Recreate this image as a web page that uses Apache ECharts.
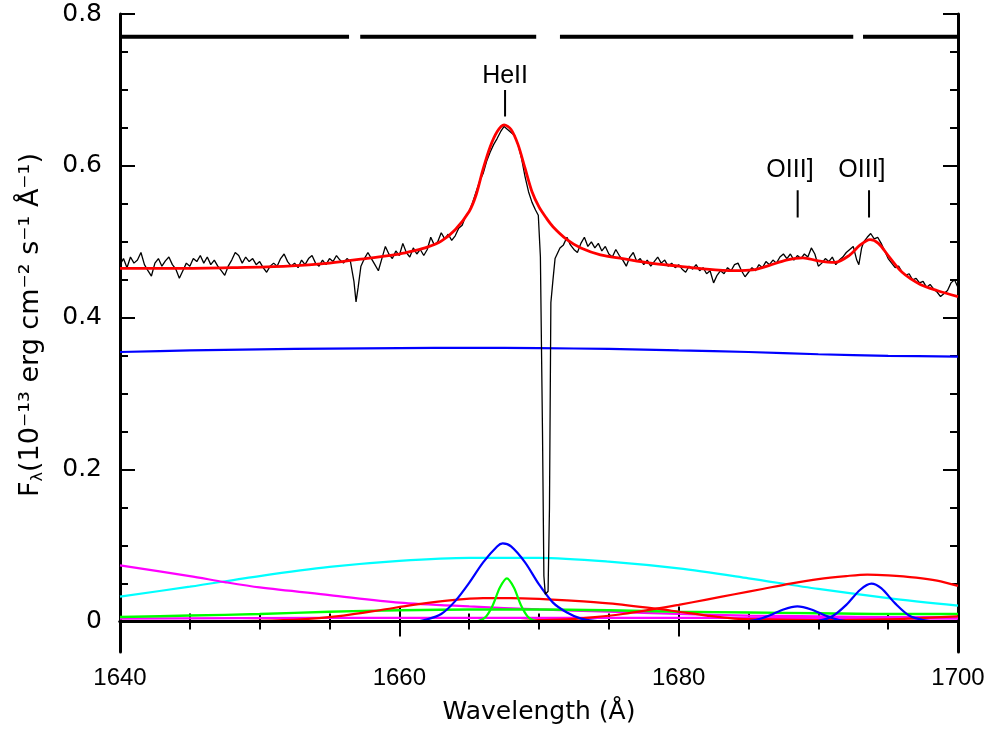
<!DOCTYPE html>
<html><head><meta charset="utf-8">
<script src="https://cdn.jsdelivr.net/npm/echarts@6/dist/echarts.min.js"></script>
<style>html,body{margin:0;padding:0;background:#fff}#c{width:1000px;height:733px}</style>
</head><body><div id="c"></div>
<script>
// ---- axis ticks ----
const yMajorTicks = [0, 0.2, 0.4, 0.6, 0.8];
const yMinorTicks = [0.05, 0.1, 0.15, 0.25, 0.3, 0.35, 0.45, 0.5, 0.55, 0.65, 0.7, 0.75];

// ---- observed spectrum (wavelength, flux) ----
const spec1 = [[1640.00,0.470],[1640.25,0.478],[1640.50,0.466],[1640.75,0.480],[1641.00,0.472],[1641.25,0.476],[1641.50,0.486],[1641.75,0.470],[1642.00,0.462],[1642.25,0.455],[1642.50,0.472],[1642.75,0.478],[1643.00,0.468],[1643.25,0.475],[1643.50,0.480],[1643.75,0.470],[1644.00,0.464],[1644.25,0.452],[1644.50,0.462],[1644.75,0.472],[1645.00,0.468],[1645.25,0.478],[1645.50,0.474],[1645.75,0.482],[1646.00,0.472],[1646.25,0.480],[1646.50,0.470],[1646.75,0.476],[1647.00,0.468],[1647.25,0.462],[1647.50,0.456],[1647.75,0.468],[1648.00,0.476],[1648.25,0.486],[1648.50,0.482],[1648.75,0.472],[1649.00,0.480],[1649.25,0.474],[1649.50,0.478],[1649.75,0.470]];
const spec2 = [[1650.00,0.474],[1650.25,0.466],[1650.50,0.460],[1650.75,0.468],[1651.00,0.472],[1651.25,0.468],[1651.50,0.478],[1651.75,0.484],[1652.00,0.474],[1652.25,0.468],[1652.50,0.472],[1652.75,0.466],[1653.00,0.476],[1653.25,0.470],[1653.50,0.478],[1653.75,0.482],[1654.00,0.472],[1654.25,0.468],[1654.50,0.476],[1654.75,0.470],[1655.00,0.478],[1655.25,0.474],[1655.50,0.482],[1655.75,0.476],[1656.00,0.472],[1656.25,0.478],[1656.50,0.474],[1656.75,0.448],[1656.90,0.421],[1657.05,0.440],[1657.25,0.468],[1657.50,0.478],[1657.75,0.486],[1658.00,0.478],[1658.25,0.470],[1658.50,0.462],[1658.75,0.478],[1659.00,0.494],[1659.25,0.484],[1659.50,0.478],[1659.75,0.488]];
const spec3 = [[1660.00,0.482],[1660.25,0.498],[1660.50,0.486],[1660.75,0.480],[1661.00,0.492],[1661.25,0.484],[1661.50,0.490],[1661.75,0.482],[1662.00,0.490],[1662.25,0.506],[1662.50,0.496],[1662.75,0.500],[1663.00,0.512],[1663.25,0.504],[1663.50,0.510],[1663.75,0.502],[1664.00,0.508],[1664.25,0.518],[1664.50,0.522],[1664.75,0.534],[1665.00,0.540],[1665.25,0.552],[1665.50,0.566],[1665.75,0.580],[1666.00,0.590],[1666.25,0.606],[1666.50,0.618],[1666.75,0.628],[1667.00,0.636],[1667.25,0.645],[1667.50,0.652],[1667.75,0.648],[1668.00,0.644],[1668.25,0.640],[1668.50,0.628],[1668.75,0.610],[1669.00,0.586],[1669.25,0.566],[1669.50,0.552],[1669.75,0.542],[1669.95,0.535]];
const spec4 = [[1670.10,0.480],[1670.25,0.250],[1670.35,0.060],[1670.45,0.036],[1670.55,0.035],[1670.65,0.040],[1670.75,0.150],[1670.85,0.420],[1671.00,0.450],[1671.15,0.478],[1671.35,0.486],[1671.50,0.492],[1671.75,0.496],[1672.00,0.506],[1672.25,0.496],[1672.50,0.490],[1672.75,0.486],[1673.00,0.498],[1673.25,0.506],[1673.50,0.494],[1673.75,0.500],[1674.00,0.492],[1674.25,0.498],[1674.50,0.488],[1674.75,0.494],[1675.00,0.484],[1675.25,0.480],[1675.50,0.490],[1675.75,0.482],[1676.00,0.476],[1676.25,0.468],[1676.50,0.480],[1676.75,0.486],[1677.00,0.474],[1677.25,0.478],[1677.50,0.470],[1677.75,0.476],[1678.00,0.468],[1678.25,0.474],[1678.50,0.480],[1678.75,0.472],[1679.00,0.476],[1679.25,0.468],[1679.50,0.472],[1679.75,0.466]];
const spec5 = [[1680.00,0.470],[1680.25,0.464],[1680.50,0.460],[1680.75,0.468],[1681.00,0.464],[1681.25,0.470],[1681.50,0.462],[1681.75,0.466],[1682.00,0.458],[1682.25,0.462],[1682.50,0.446],[1682.75,0.456],[1683.00,0.462],[1683.25,0.458],[1683.50,0.466],[1683.75,0.462],[1684.00,0.470],[1684.25,0.472],[1684.50,0.462],[1684.75,0.454],[1685.00,0.460],[1685.25,0.466],[1685.50,0.462],[1685.75,0.470],[1686.00,0.466],[1686.25,0.474],[1686.50,0.470],[1686.75,0.476],[1687.00,0.472],[1687.25,0.480],[1687.50,0.484],[1687.75,0.478],[1688.00,0.484],[1688.25,0.476],[1688.50,0.482],[1688.75,0.478],[1689.00,0.484],[1689.25,0.480],[1689.50,0.492],[1689.75,0.484]];
const spec6 = [[1690.00,0.468],[1690.25,0.472],[1690.50,0.478],[1690.75,0.474],[1691.00,0.480],[1691.25,0.470],[1691.50,0.476],[1691.75,0.480],[1692.00,0.486],[1692.25,0.490],[1692.50,0.494],[1692.75,0.476],[1692.90,0.470],[1693.10,0.492],[1693.25,0.500],[1693.50,0.506],[1693.75,0.511],[1694.00,0.504],[1694.25,0.506],[1694.50,0.498],[1694.75,0.488],[1695.00,0.478],[1695.25,0.472],[1695.50,0.466],[1695.75,0.468],[1696.00,0.460],[1696.25,0.456],[1696.50,0.458],[1696.75,0.450],[1697.00,0.452],[1697.25,0.446],[1697.50,0.448],[1697.75,0.440],[1698.00,0.444],[1698.25,0.438],[1698.50,0.434],[1698.75,0.428],[1699.00,0.432],[1699.25,0.436],[1699.50,0.446],[1699.75,0.450],[1700.00,0.440]];

// ---- total model fit ----
const fitTotal = [[1640,0.465],[1644,0.465],[1648,0.466],[1652,0.468],[1655,0.472],[1658,0.479],[1660,0.484],[1661,0.488],[1662,0.493],[1663,0.501],[1664,0.516],[1665,0.540],[1665.5,0.562],[1666,0.596],[1666.5,0.625],[1667,0.645],[1667.5,0.654],[1668,0.648],[1668.5,0.628],[1669,0.597],[1669.5,0.566],[1670,0.546],[1670.5,0.532],[1671,0.520],[1672,0.503],[1673,0.492],[1674.4,0.483],[1676,0.478],[1678,0.472],[1680,0.468],[1682,0.464],[1684,0.462],[1685.3,0.463],[1686.5,0.469],[1687.7,0.476],[1688.9,0.479],[1690,0.475],[1691.2,0.473],[1692.2,0.482],[1693,0.496],[1693.7,0.503],[1694.3,0.498],[1695,0.482],[1696,0.460],[1697.3,0.444],[1698.5,0.436],[1700,0.428]];

// ---- model components ----
const contBlue = [[1640,0.355],[1645,0.357],[1650,0.3585],[1655,0.3595],[1660,0.360],[1665,0.3605],[1670,0.360],[1675,0.359],[1680,0.357],[1685,0.355],[1690,0.352],[1695,0.350],[1700,0.349]];
const broadCyan = [[1640,0.033],[1645,0.046],[1650,0.060],[1655,0.072],[1660,0.080],[1665,0.084],[1670,0.084],[1675,0.079],[1680,0.070],[1685,0.057],[1690,0.043],[1695,0.031],[1700,0.021]];
const magentaA = [[1640,0.074],[1645,0.060],[1647.5,0.052],[1650,0.045],[1655,0.035],[1660,0.025],[1665,0.020],[1670,0.016],[1675,0.013],[1680,0.010],[1685,0.008],[1690,0.007],[1695,0.006],[1700,0.006]];
const magentaB = [[1640,0.004],[1655,0.005],[1670,0.005],[1685,0.005],[1700,0.004]];
const greenBroad = [[1640,0.006],[1645,0.008],[1650,0.010],[1655,0.013],[1660,0.015],[1665,0.016],[1670,0.016],[1675,0.015],[1680,0.013],[1685,0.012],[1690,0.011],[1695,0.010],[1700,0.010]];
const redA = [[1640,0.000],[1645,0.000],[1650,0.001],[1653,0.003],[1656,0.008],[1658.6,0.015],[1661,0.022],[1663.6,0.028],[1666,0.031],[1668,0.031],[1670,0.030],[1672,0.028],[1675,0.024],[1678.4,0.017],[1680,0.013],[1682,0.008],[1684,0.004],[1686,0.003],[1690,0.002],[1695,0.003],[1700,0.007]];
const redB = [[1668,0.000],[1670,0.002],[1672,0.003],[1674,0.006],[1676,0.010],[1678.4,0.017],[1680,0.022],[1682,0.029],[1684,0.036],[1686,0.043],[1688,0.050],[1690,0.056],[1692,0.060],[1693.5,0.062],[1695,0.061],[1697,0.058],[1698.5,0.054],[1700,0.047]];
const blueHeII = [[1660,0],[1661,0.000],[1662,0.003],[1663,0.010],[1664,0.027],[1665,0.051],[1666,0.078],[1667,0.099],[1667.4,0.103],[1668,0.099],[1669,0.078],[1670,0.049],[1671,0.025],[1672,0.012],[1673,0.004],[1674,0.001],[1675,0]];
const blueOIIIa = [[1683.5,0],[1684.5,0.000],[1685.5,0.002],[1686.5,0.008],[1687.5,0.016],[1688.5,0.020],[1689.5,0.016],[1690.5,0.008],[1691.5,0.002],[1692.5,0.000],[1693.5,0]];
const blueOIIIb = [[1689,0],[1690,0.001],[1691,0.007],[1692,0.022],[1693,0.042],[1693.8,0.050],[1694.5,0.044],[1695.5,0.024],[1696.5,0.008],[1697.5,0.002],[1698.5,0.000],[1699.5,0]];
const greenNarrow = [[1665.2,0],[1665.7,0.001],[1666.2,0.0065],[1666.7,0.022],[1667.2,0.045],[1667.7,0.057],[1668.2,0.045],[1668.7,0.022],[1669.2,0.0065],[1669.7,0.001],[1670.2,0]];
const zeroLevel = [[1640,0],[1700,0]];

// ---- top bar segments (wavelength ranges) at flux level ----
const barLevel = 0.77;
const barStarts = [1640, 1657.2, 1671.5, 1693.2];
const barEnds   = [1656.4, 1669.8, 1692.5, 1700];

// ---- line identifications ----
const lineNames = ['HeII', 'OIII]', 'OIII]'];
const lineLabelLam = [1667.57, 1687.97, 1693.12];
const lineLabelFlux = [0.718, 0.595, 0.595];
const lineTickLam = [1667.57, 1688.52, 1693.63];
const lineTickLow = [0.665, 0.532, 0.532];
const lineTickHigh = [0.700, 0.568, 0.568];

const spectrum = [].concat(spec1, spec2, spec3, spec4, spec5, spec6);
const barData = [];
barStarts.forEach((s, i) => { if (i > 0) barData.push([s, '-']); barData.push([s, barLevel], [barEnds[i], barLevel]); });
const tickData = [];
lineTickLam.forEach((l, i) => { if (i > 0) tickData.push([l, '-']); tickData.push([l, lineTickLow[i]], [l, lineTickHigh[i]]); });
const labelData = lineNames.map((n, i) => [lineLabelLam[i], lineLabelFlux[i], n]);

const chart = echarts.init(document.getElementById('c'), null, {renderer: 'canvas'});
const black = '#000';
const axisLineStyle = {color: black, width: 3};
const tickStyle = {color: black, width: 2};

function comp(data, color, w, z) {
  return {type: 'line', data: data, symbol: 'none', smooth: 0.3,
    lineStyle: {color: color, width: w || 2.2}, z: z || 2, silent: true};
}

const yBase = {type: 'value', min: -0.04, max: 0.8, splitLine: {show: false}};
const xBase = {type: 'value', min: 1640, max: 1700, interval: 20, splitLine: {show: false}};

chart.setOption({
  animation: false,
  backgroundColor: '#fff',
  grid: {left: 120, right: 42, top: 14, bottom: 81},
  xAxis: [
    Object.assign({}, xBase, {position: 'bottom',
      axisLine: {lineStyle: axisLineStyle},
      axisTick: {inside: true, length: 15, lineStyle: tickStyle},
      minorTick: {show: true, splitNumber: 4, length: 8, lineStyle: tickStyle},
      axisLabel: {margin: 14, fontSize: 24, color: black, fontFamily: 'Liberation Sans', formatter: v => String(v)},
      name: 'Wavelength (Å)', nameLocation: 'middle', nameGap: 48,
      nameTextStyle: {fontSize: 25, color: black, fontFamily: 'DejaVu Sans'}}),
    Object.assign({}, xBase, {position: 'top',
      axisLine: {lineStyle: axisLineStyle},
      axisTick: {inside: true, length: 15, lineStyle: tickStyle},
      minorTick: {show: true, splitNumber: 4, length: 8, lineStyle: tickStyle},
      axisLabel: {show: false}})
  ],
  yAxis: [
    Object.assign({}, yBase, {position: 'left',
      axisLine: {onZero: false, lineStyle: axisLineStyle},
      axisTick: {inside: true, length: 15, lineStyle: tickStyle, customValues: yMajorTicks},
      axisLabel: {margin: 18, fontSize: 25, color: black, fontFamily: 'DejaVu Sans', customValues: yMajorTicks},
      name: '{f|F}{s|λ}{f|(10⁻¹³ erg cm⁻² s⁻¹ Å⁻¹)}', nameLocation: 'middle', nameGap: 74,
      nameTextStyle: {fontSize: 27, color: black, fontFamily: 'DejaVu Sans', padding: [0, 0, 0, 16],
        rich: {f: {fontSize: 27, color: black, fontFamily: 'DejaVu Sans'},
               s: {fontSize: 16, color: black, fontFamily: 'DejaVu Sans', padding: [14, 0, 0, 0]}}}}),
    Object.assign({}, yBase, {position: 'left',
      axisLine: {show: false},
      axisTick: {inside: true, length: 8, lineStyle: tickStyle, customValues: yMinorTicks},
      axisLabel: {show: false}}),
    Object.assign({}, yBase, {position: 'right',
      axisLine: {onZero: false, lineStyle: axisLineStyle},
      axisTick: {inside: true, length: 15, lineStyle: tickStyle, customValues: yMajorTicks},
      axisLabel: {show: false}}),
    Object.assign({}, yBase, {position: 'right',
      axisLine: {show: false},
      axisTick: {inside: true, length: 8, lineStyle: tickStyle, customValues: yMinorTicks},
      axisLabel: {show: false}})
  ],
  series: [
    comp(contBlue, '#0000ff'),
    comp(broadCyan, '#00ffff'),
    comp(magentaA, '#ff00ff'),
    comp(magentaB, '#ff00ff'),
    comp(greenBroad, '#00ff00', 2.4),
    comp(redA, '#ff0000'),
    comp(redB, '#ff0000'),
    comp(blueHeII, '#0000ff'),
    comp(blueOIIIa, '#0000ff'),
    comp(blueOIIIb, '#0000ff'),
    comp(greenNarrow, '#00ff00'),
    {type: 'line', data: zeroLevel, symbol: 'none', lineStyle: {color: black, width: 3}, z: 3, silent: true},
    {type: 'line', data: spectrum, symbol: 'none', lineStyle: {color: black, width: 1.3}, z: 4, silent: true},
    comp(fitTotal, '#ff0000', 2.8, 5),
    {type: 'line', data: barData, symbol: 'none', connectNulls: false, lineStyle: {color: black, width: 4}, z: 5, silent: true},
    {type: 'line', data: tickData, symbol: 'none', connectNulls: false, lineStyle: {color: black, width: 2}, z: 5, silent: true},
    {type: 'scatter', data: labelData, symbolSize: 0, z: 6, silent: true, itemStyle: {opacity: 1},
      label: {show: true, position: 'inside', formatter: p => p.data[2], fontSize: 25, color: '#000', opacity: 1, fontFamily: 'Liberation Sans'}}
  ]
});
</script>
</body></html>
